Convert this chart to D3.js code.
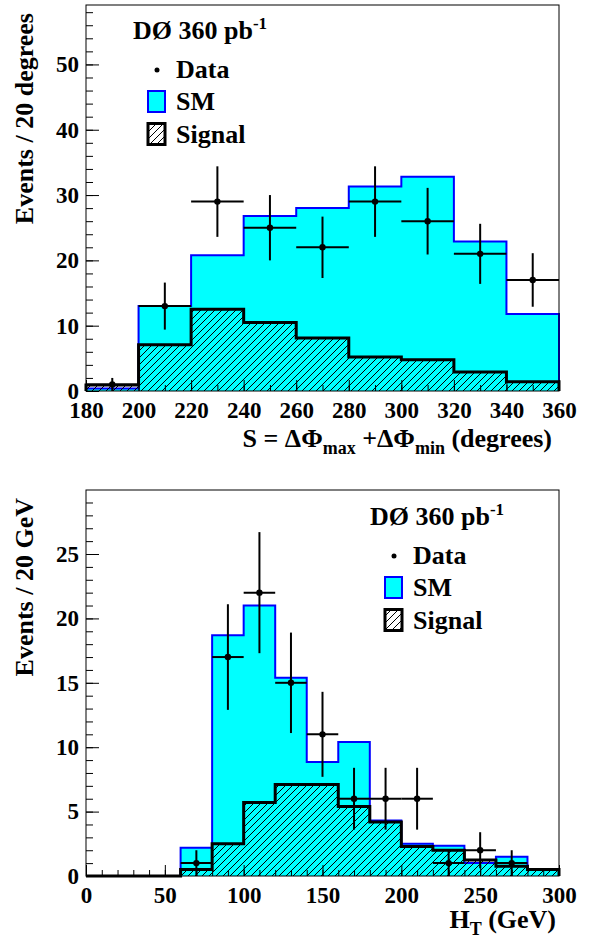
<!DOCTYPE html>
<html>
<head>
<meta charset="utf-8">
<script src="https://cdn.jsdelivr.net/npm/d3@7"></script>
<style>
  body { margin: 0; background: #fff; }
  svg text { font-family: "Times New Roman", "Liberation Serif", Tinos, Times, "DejaVu Serif", serif !important; font-weight: bold; fill: #000; }
</style>
</head>
<body>
<svg id="chart" width="591" height="941"></svg>
<script>
// S = dPhi_max + dPhi_min, 20 degree bins (low edges)
var sBinLow = [180, 200, 220, 240, 260, 280, 300, 320, 340];
var sSM = [0.4, 13.0, 20.8, 26.8, 28.0, 31.3, 32.8, 22.9, 11.8];
var sSignal = [0.9, 7.1, 12.5, 10.5, 8.1, 5.2, 4.8, 2.9, 1.4];
var sData = [1, 13, 29, 25, 22, 29, 26, 21, 17];
var sDataErr = [1, 3.6, 5.4, 5.0, 4.7, 5.4, 5.1, 4.6, 4.1];
var sXTicks = [180, 200, 220, 240, 260, 280, 300, 320, 340, 360];
var sYTicks = [0, 10, 20, 30, 40, 50];

// H_T, 20 GeV bins (low edges)
var htBinLow = [0, 20, 40, 60, 80, 100, 120, 140, 160, 180, 200, 220, 240, 260, 280];
var htSM = [0, 0, 0, 2.2, 18.7, 21.0, 15.4, 8.85, 10.4, 4.3, 2.5, 2.35, 1.0, 1.5, 0.55];
var htSignal = [0, 0, 0, 0.5, 2.5, 5.7, 7.1, 7.1, 5.4, 4.2, 2.3, 2.0, 1.25, 0.75, 0.5];
var htData = [0, 0, 0, 1, 17, 22, 15, 11, 6, 6, 6, 1, 2, 1, 0];
var htDataErr = [0, 0, 0, 1, 4.1, 4.7, 3.9, 3.3, 2.4, 2.4, 2.4, 1, 1.4, 1, 0];
var htXTicks = [0, 50, 100, 150, 200, 250, 300];
var htYTicks = [0, 5, 10, 15, 20, 25];

var FONT = '"Times New Roman", "Liberation Serif", Tinos, Times, "DejaVu Serif", serif';
var svg = d3.select("#chart");

var defs = svg.append("defs");
var hatch = defs.append("pattern")
  .attr("id", "hatch")
  .attr("patternUnits", "userSpaceOnUse")
  .attr("width", 7)
  .attr("height", 7);
hatch.append("path")
  .attr("d", "M0,7 L7,0 M-1,1 L1,-1 M6,8 L8,6")
  .attr("stroke", "#000")
  .attr("stroke-width", 1);

function stepPoints(binLow, width, vals) {
  var pts = [[binLow[0], 0]];
  vals.forEach(function(v, i) {
    pts.push([binLow[i], v]);
    pts.push([binLow[i] + width, v]);
  });
  pts.push([binLow[vals.length - 1] + width, 0]);
  return pts;
}

function drawPanel(p) {
  var g = svg.append("g").attr("font-family", FONT);
  var x = d3.scaleLinear().domain(p.xDomain).range([86, 559]);
  var y = d3.scaleLinear().domain(p.yDomain).range([p.bottom, p.top]);
  var line = d3.line()
    .x(function(d) { return x(d[0]); })
    .y(function(d) { return y(d[1]); });

  var smPts = stepPoints(p.binLow, p.binWidth, p.sm);
  g.append("path").attr("d", line(smPts) + "Z").attr("fill", "#00ffff");
  g.append("path").attr("d", line(smPts))
    .attr("fill", "none").attr("stroke", "#0000ff").attr("stroke-width", 2);

  var sigPts = stepPoints(p.binLow, p.binWidth, p.signal);
  g.append("path").attr("d", line(sigPts) + "Z").attr("fill", "url(#hatch)");
  g.append("path").attr("d", line(sigPts))
    .attr("fill", "none").attr("stroke", "#000").attr("stroke-width", 3)
    .attr("stroke-linejoin", "miter");

  // data points with error bars
  var pts = p.data.map(function(v, i) {
    return { lo: p.binLow[i], hi: p.binLow[i] + p.binWidth, v: v, e: p.err[i] };
  }).filter(function(d) { return d.v > 0; });
  var dp = g.selectAll("g.pt").data(pts).enter().append("g").attr("class", "pt");
  dp.append("line")
    .attr("x1", function(d) { return x(d.lo); })
    .attr("x2", function(d) { return x(d.hi); })
    .attr("y1", function(d) { return y(d.v); })
    .attr("y2", function(d) { return y(d.v); })
    .attr("stroke", "#000").attr("stroke-width", 2);
  dp.append("line")
    .attr("x1", function(d) { return x((d.lo + d.hi) / 2); })
    .attr("x2", function(d) { return x((d.lo + d.hi) / 2); })
    .attr("y1", function(d) { return y(d.v - d.e); })
    .attr("y2", function(d) { return y(d.v + d.e); })
    .attr("stroke", "#000").attr("stroke-width", 2);
  dp.append("circle")
    .attr("cx", function(d) { return x((d.lo + d.hi) / 2); })
    .attr("cy", function(d) { return y(d.v); })
    .attr("r", 3.2)
    .attr("fill", "#000");

  // frame
  g.append("rect")
    .attr("x", 86).attr("y", p.top)
    .attr("width", 559 - 86).attr("height", p.bottom - p.top)
    .attr("fill", "none").attr("stroke", "#000").attr("stroke-width", 1);

  // axes, ticks inside the frame
  var yMinor = d3.range(p.yDomain[0], p.yDomain[1], p.yMinorStep);
  g.append("g").attr("transform", "translate(86,0)")
    .call(d3.axisLeft(y).tickValues(yMinor).tickSize(-7).tickSizeOuter(0).tickFormat(""));
  g.append("g").attr("class", "yax").attr("transform", "translate(86,0)")
    .call(d3.axisLeft(y).tickValues(p.yTicks).tickSize(-13).tickSizeOuter(0).tickPadding(7));
  var xMinor = d3.range(p.xDomain[0], p.xDomain[1], p.xMinorStep);
  g.append("g").attr("transform", "translate(0," + p.bottom + ")")
    .call(d3.axisBottom(x).tickValues(xMinor).tickSize(-6).tickSizeOuter(0).tickFormat(""));
  g.append("g").attr("class", "xax").attr("transform", "translate(0," + p.bottom + ")")
    .call(d3.axisBottom(x).tickValues(p.xTicks).tickSize(-11).tickSizeOuter(0).tickPadding(11));
  g.selectAll(".domain").remove();
  g.selectAll("g.yax, g.xax").attr("font-family", FONT).attr("font-size", 23);
  g.selectAll(".tick line").attr("stroke", "#000").attr("stroke-width", 1);
  g.selectAll(".tick text")
    .attr("font-family", FONT)
    .attr("font-size", 23)
    .attr("font-weight", "bold");

  // y title
  g.append("text")
    .attr("transform", "translate(33," + (p.top + 8) + ") rotate(-90)")
    .attr("text-anchor", "end")
    .attr("font-size", 26)
    .text(p.yTitle);

  // x title
  var xt = g.append("text")
    .attr("x", p.xTitleX).attr("y", p.xTitleY)
    .attr("text-anchor", "end")
    .attr("font-size", 26);
  p.xTitle.forEach(function(part) {
    xt.append("tspan")
      .attr("font-size", part.sub ? 18 : 26)
      .attr("dy", part.dy || 0)
      .text(part.t);
  });

  // legend
  var L = p.legend;
  var lum = g.append("text").attr("x", L.x).attr("y", L.y).attr("font-size", 26);
  lum.append("tspan").text("DØ 360 pb");
  lum.append("tspan").attr("font-size", 17).attr("dy", -10).text("-1");
  g.append("circle").attr("cx", L.x + 24).attr("cy", L.y + 31).attr("r", 2.5).attr("fill", "#000");
  g.append("text").attr("x", L.x + 43).attr("y", L.y + 38.5).attr("font-size", 26).text("Data");
  g.append("rect").attr("x", L.x + 15).attr("y", L.y + 52).attr("width", 17).attr("height", 21)
    .attr("fill", "#00ffff").attr("stroke", "#0000ff").attr("stroke-width", 2);
  g.append("text").attr("x", L.x + 43).attr("y", L.y + 71).attr("font-size", 26).text("SM");
  g.append("rect").attr("x", L.x + 15).attr("y", L.y + 84.5).attr("width", 17).attr("height", 21)
    .attr("fill", "#fff").attr("stroke", "none");
  g.append("rect").attr("x", L.x + 15).attr("y", L.y + 84.5).attr("width", 17).attr("height", 21)
    .attr("fill", "url(#hatch)").attr("stroke", "#000").attr("stroke-width", 3);
  g.append("text").attr("x", L.x + 43).attr("y", L.y + 103.5).attr("font-size", 26).text("Signal");
}

drawPanel({
  binLow: sBinLow, binWidth: 20, sm: sSM, signal: sSignal, data: sData, err: sDataErr,
  xDomain: [180, 360], yDomain: [0, 59.1], top: 5, bottom: 391,
  xTicks: sXTicks, yTicks: sYTicks, xMinorStep: 10, yMinorStep: 2,
  yTitle: "Events / 20 degrees",
  xTitle: [
    { t: "S = ΔΦ" }, { t: "max", sub: true, dy: 7 }, { t: " +ΔΦ", dy: -7 },
    { t: "min", sub: true, dy: 7 }, { t: " (degrees)", dy: -7 }
  ],
  xTitleX: 552, xTitleY: 447,
  legend: { x: 133, y: 39 }
});

drawPanel({
  binLow: htBinLow, binWidth: 20, sm: htSM, signal: htSignal, data: htData, err: htDataErr,
  xDomain: [0, 300], yDomain: [0, 29.97], top: 490, bottom: 876,
  xTicks: htXTicks, yTicks: htYTicks, xMinorStep: 10, yMinorStep: 1,
  yTitle: "Events / 20 GeV",
  xTitle: [ { t: "H" }, { t: "T", sub: true, dy: 7 }, { t: " (GeV)", dy: -7 } ],
  xTitleX: 556, xTitleY: 928,
  legend: { x: 370, y: 525 }
});
</script>
</body>
</html>
